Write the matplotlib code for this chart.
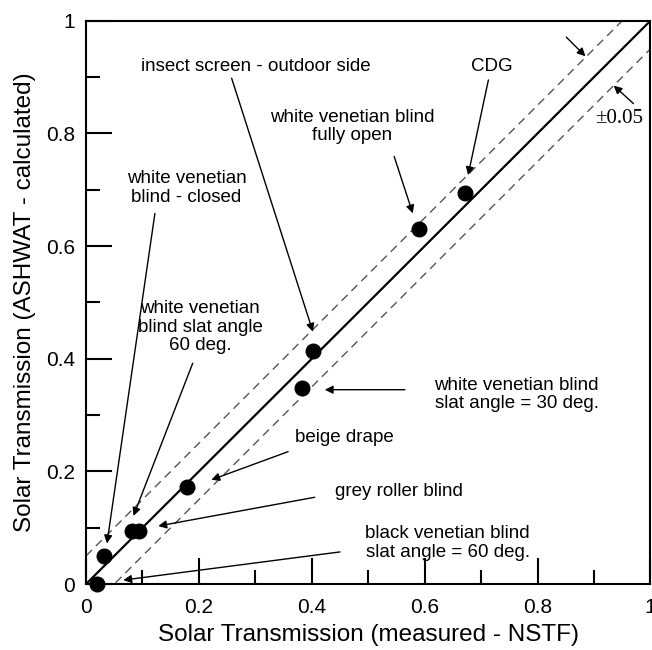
import matplotlib
matplotlib.use("Agg")
import matplotlib.pyplot as plt
import numpy as np

plt.rcParams['font.family'] = ['Liberation Sans', 'DejaVu Sans']

# data (measured, calculated)
measured = [0.019, 0.031, 0.081, 0.093, 0.179, 0.382, 0.402, 0.590, 0.671]
calculated = [0.000, 0.050, 0.095, 0.095, 0.172, 0.348, 0.414, 0.630, 0.694]

tolerance = 0.05

labels = [
    "insect screen - outdoor side",
    "CDG",
    "white venetian blind\nfully open",
    "white venetian\nblind - closed",
    "white venetian\nblind slat angle\n60 deg.",
    "white venetian blind\nslat angle = 30 deg.",
    "beige drape",
    "grey roller blind",
    "black venetian blind\nslat angle = 60 deg.",
]
label_pos = [(0.30, 0.918), (0.719, 0.918), (0.471, 0.812), (0.178, 0.703),
             (0.202, 0.456), (0.763, 0.336), (0.457, 0.261), (0.554, 0.164),
             (0.641, 0.073)]
arrow_tail = [(0.258, 0.898), (0.713, 0.895), (0.546, 0.759), (0.122, 0.658),
              (0.189, 0.392), (0.565, 0.345), (0.358, 0.235), (0.405, 0.154),
              (0.450, 0.057)]
arrow_tip = [(0.402, 0.448), (0.677, 0.726), (0.579, 0.658), (0.037, 0.072),
             (0.084, 0.121), (0.423, 0.345), (0.222, 0.185), (0.128, 0.103),
             (0.066, 0.007)]

fig = plt.figure(figsize=(6.52, 6.50), dpi=100)
ax = fig.add_axes([0.132, 0.1015, 0.8655, 0.8665])

line = np.array([0.0, 1.0])
ax.plot(line, line, color='black', lw=1.6, zorder=2)
ax.plot(line, line + tolerance, color='#555555', lw=1.0, ls=(0, (6, 4)), zorder=2)
ax.plot(line, line - tolerance, color='#555555', lw=1.0, ls=(0, (6, 4)), zorder=2)

ax.plot(measured, calculated, 'o', color='black', ms=10.5, zorder=3, clip_on=False)

for lab, (lx, ly), (tx, ty), (hx, hy) in zip(labels, label_pos, arrow_tail, arrow_tip):
    ax.text(lx, ly, lab, ha='center', va='center', fontsize=13.5, linespacing=1.1)
    ax.annotate('', xy=(hx, hy), xytext=(tx, ty),
                arrowprops=dict(arrowstyle='-|>', color='black', lw=1.0,
                                mutation_scale=12, shrinkA=0, shrinkB=0))

# +-0.05 indicator
ax.annotate('', xy=(0.885, 0.937), xytext=(0.851, 0.971),
            arrowprops=dict(arrowstyle='-|>', color='black', lw=1.0,
                            mutation_scale=12, shrinkA=0, shrinkB=0))
ax.annotate('', xy=(0.935, 0.885), xytext=(0.970, 0.853),
            arrowprops=dict(arrowstyle='-|>', color='black', lw=1.0,
                            mutation_scale=12, shrinkA=0, shrinkB=0))
ax.text(0.944, 0.827, '\u00b10.05', ha='center', va='center', fontsize=15,
        family=['Liberation Serif', 'DejaVu Serif'])

ax.set_xlim(0, 1)
ax.set_ylim(0, 1)
ticks = [0, 0.2, 0.4, 0.6, 0.8, 1]
ticklabels = ['0', '0.2', '0.4', '0.6', '0.8', '1']
ax.set_xticks(ticks)
ax.set_xticklabels(ticklabels)
ax.set_yticks(ticks)
ax.set_yticklabels(ticklabels)
ax.set_xticks([0.1, 0.3, 0.5, 0.7, 0.9], minor=True)
ax.set_yticks([0.1, 0.3, 0.5, 0.7, 0.9], minor=True)
ax.tick_params(which='major', direction='in', length=19, width=1.5, labelsize=15, pad=8)
ax.tick_params(which='minor', direction='in', length=10, width=1.5)
ax.tick_params(axis='x', which='major', pad=10)
for s in ax.spines.values():
    s.set_linewidth(1.5)

ax.set_xlabel('Solar Transmission (measured - NSTF)', fontsize=17.5, labelpad=5)
ax.set_ylabel('Solar Transmission (ASHWAT - calculated)', fontsize=17.5, labelpad=7)

fig.savefig('out.png', dpi=100)
